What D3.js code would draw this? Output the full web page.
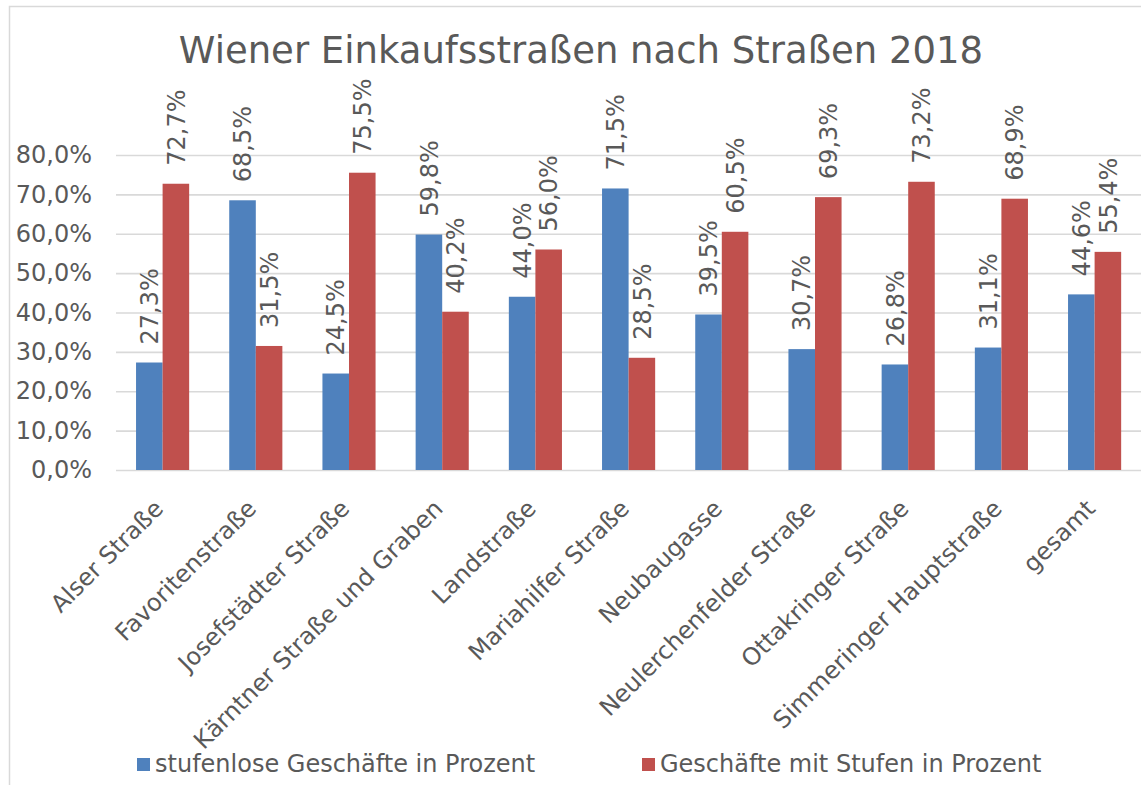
<!DOCTYPE html>
<html>
<head>
<meta charset="utf-8">
<script src="https://cdn.jsdelivr.net/npm/d3@7"></script>
<style>
  html, body { margin: 0; padding: 0; background: #fff; }
  svg { display: block; font-family: "DejaVu Sans", Verdana, sans-serif; }
</style>
</head>
<body>
<svg id="chart" width="1141" height="785"></svg>
<script>
// data
const categories = [
  "Alser Straße", "Favoritenstraße", "Josefstädter Straße", "Kärntner Straße und Graben",
  "Landstraße", "Mariahilfer Straße", "Neubaugasse", "Neulerchenfelder Straße",
  "Ottakringer Straße", "Simmeringer Hauptstraße", "gesamt"
];
const stufenlos = [27.3, 68.5, 24.5, 59.8, 44.0, 71.5, 39.5, 30.7, 26.8, 31.1, 44.6];
const mitStufen = [72.7, 31.5, 75.5, 40.2, 56.0, 28.5, 60.5, 69.3, 73.2, 68.9, 55.4];
const seriesNames = ["stufenlose Geschäfte in Prozent", "Geschäfte mit Stufen in Prozent"];
const yTicks = [0, 10, 20, 30, 40, 50, 60, 70, 80];
const title = "Wiener Einkaufsstraßen nach Straßen 2018";

const colours = ["#4F81BD", "#C0504D"];
const textColour = "#595959";
const gridColour = "#D9D9D9";

// german number format: 72,7%
const de = d3.formatLocale({ decimal: ",", thousands: ".", grouping: [3], currency: ["", " €"] });
const pct = v => de.format(".1f")(v) + "%";

const svg = d3.select("#chart");

// outer frame of the chart
svg.append("rect")
  .attr("x", 9.5).attr("y", 6.5)
  .attr("width", 1200).attr("height", 900)
  .attr("fill", "none").attr("stroke", gridColour).attr("stroke-width", 1.5);

const plot = { left: 116, right: 1141.2, top: 155, bottom: 470 };

const x = d3.scaleBand()
  .domain(categories)
  .range([plot.left, plot.right])
  .paddingInner(0.43)
  .paddingOuter(0.215);

const xs = d3.scaleBand()
  .domain([0, 1])
  .range([0, x.bandwidth()]);

const y = d3.scaleLinear()
  .domain([0, 80])
  .range([plot.bottom, plot.top]);

// y axis with gridlines
const yAxis = svg.append("g")
  .attr("transform", `translate(${plot.left},0)`)
  .call(d3.axisLeft(y)
    .tickValues(yTicks)
    .tickFormat(pct)
    .tickSize(-(plot.right - plot.left + 20))
    .tickPadding(24));
yAxis.select(".domain").remove();
yAxis.selectAll(".tick line").attr("stroke", gridColour).attr("stroke-width", 1.6);
yAxis.selectAll(".tick text")
  .attr("fill", textColour)
  .attr("font-size", 24)
  .attr("font-family", "DejaVu Sans, Verdana, sans-serif");

// bars
const rows = categories.map((c, i) => ({ cat: c, vals: [stufenlos[i], mitStufen[i]] }));

const groups = svg.append("g").attr("class", "bars")
  .selectAll("g")
  .data(rows)
  .enter().append("g")
  .attr("transform", d => `translate(${x(d.cat)},0)`);

groups.selectAll("rect")
  .data(d => d.vals.map((v, s) => ({ v, s })))
  .enter().append("rect")
  .attr("x", d => xs(d.s))
  .attr("y", d => y(d.v))
  .attr("width", xs.bandwidth())
  .attr("height", d => y(0) - y(d.v))
  .attr("fill", d => colours[d.s]);

// data labels, vertical
groups.selectAll("text")
  .data(d => d.vals.map((v, s) => ({ v, s })))
  .enter().append("text")
  .attr("transform", d => `translate(${xs(d.s) + xs.bandwidth() / 2},${y(d.v) - 18}) rotate(-90)`)
  .attr("dy", "0.36em")
  .attr("fill", textColour)
  .attr("font-size", 24)
  .text(d => pct(d.v));

// category labels, slanted
svg.append("g").attr("class", "cat-labels")
  .selectAll("text")
  .data(categories)
  .enter().append("text")
  .attr("transform", d => `translate(${x(d) + x.bandwidth() / 2 + 2},${plot.bottom + 40}) rotate(-45)`)
  .attr("text-anchor", "end")
  .attr("fill", textColour)
  .attr("font-size", 24)
  .text(d => d);

// title
svg.append("text")
  .attr("x", 581).attr("y", 63)
  .attr("text-anchor", "middle")
  .attr("fill", textColour)
  .attr("font-size", 37)
  .text(title);

// legend
const legendX = [137, 642];
const legend = svg.append("g").attr("class", "legend")
  .selectAll("g")
  .data(seriesNames)
  .enter().append("g")
  .attr("transform", (d, i) => `translate(${legendX[i]},758)`);
legend.append("rect")
  .attr("width", 13).attr("height", 13)
  .attr("fill", (d, i) => colours[i]);
legend.append("text")
  .attr("x", 18).attr("y", 14)
  .attr("fill", textColour)
  .attr("font-size", 24)
  .text(d => d);
</script>
</body>
</html>
